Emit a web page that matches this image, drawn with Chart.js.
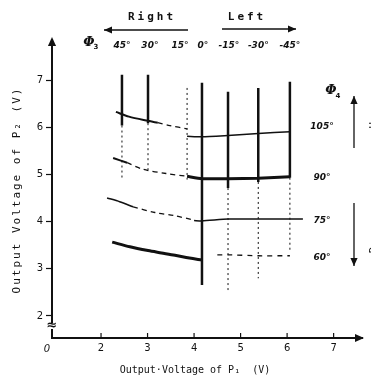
<!DOCTYPE html>
<html>
<head>
<meta charset="utf-8">
<script src="https://cdn.jsdelivr.net/npm/chart.js@4.4.0/dist/chart.umd.min.js"></script>
<style>
    html, body { margin: 0; padding: 0; background: #fff; }
    #wrap { width: 371px; height: 383px; }
</style>
</head>
<body>
<div id="wrap"><canvas id="phaseChart" width="371" height="383"></canvas></div>
<script>
// constant phi3 lines (vertical): x position, top, end of solid part, end of dashed part
var phi3Labels = ['45°', '30°', '15°', '0°', '-15°', '-30°', '-45°'];
var phi3LabelX = [2.45, 3.05, 3.70, 4.19, 4.75, 5.38, 6.06];
var phi3X = [2.45, 3.01, 3.85, 4.17, 4.73, 5.38, 6.06];
var phi3Top = [7.13, 7.13, 6.85, 6.96, 6.77, 6.85, 6.98];
var phi3SolidEnd = [6.05, 6.10, 6.85, 2.66, 4.72, 4.85, 4.94];
var phi3Bottom = [4.90, 5.05, 4.90, 2.66, 2.55, 2.80, 3.40];

// constant phi4 curves, each in left / middle (dashed) / right pieces
var phi4Labels = ['105°', '90°', '75°', '60°'];
var phi4LabelY = [6.02, 4.95, 4.02, 3.24];

var c105Left = [[2.32, 6.34], [2.6, 6.24], [3.01, 6.15], [3.22, 6.11]];
var c105Mid = [[3.22, 6.11], [3.48, 6.05], [3.85, 5.98]];
var c105Right = [[3.85, 5.82], [4.17, 5.81], [4.73, 5.84], [5.38, 5.88], [6.06, 5.92]];

var c90Left = [[2.26, 5.36], [2.56, 5.26]];
var c90Mid = [[2.56, 5.26], [2.9, 5.12], [3.4, 5.03], [3.85, 4.97]];
var c90Right = [[3.85, 4.97], [4.17, 4.92], [4.73, 4.92], [5.38, 4.93], [6.06, 4.96]];

var c75Left = [[2.13, 4.51], [2.4, 4.43], [2.69, 4.32]];
var c75Mid = [[2.69, 4.32], [3.16, 4.2], [3.59, 4.13], [3.95, 4.05]];
var c75Right = [[4.0, 4.03], [4.17, 4.02], [4.73, 4.06], [5.38, 4.06], [6.34, 4.06]];

var c60Left = [[2.24, 3.57], [2.62, 3.47], [3.01, 3.39], [3.3, 3.34], [3.59, 3.29], [3.9, 3.23], [4.17, 3.19]];
var c60Right = [[4.5, 3.3], [4.73, 3.3], [5.38, 3.28], [6.06, 3.28]];

var xMin = 0.946, xMax = 7.61;
var yMin = 1.53, yMax = 7.87;

function toPts(arr) {
    return arr.map(function(p) { return { x: p[0], y: p[1] }; });
}

function lineSet(points, width, dash, tension) {
    return {
        data: points,
        showLine: true,
        borderColor: '#111',
        borderWidth: width,
        borderDash: dash || [],
        pointRadius: 0,
        tension: tension || 0,
        fill: false
    };
}

var datasets = [];

// vertical phi3 lines
for (var i = 0; i < phi3X.length; i++) {
    if (phi3SolidEnd[i] < phi3Top[i]) {
        datasets.push(lineSet([{ x: phi3X[i], y: phi3Top[i] }, { x: phi3X[i], y: phi3SolidEnd[i] }], 2.5));
    }
    if (phi3Bottom[i] < phi3SolidEnd[i]) {
        datasets.push(lineSet([{ x: phi3X[i], y: phi3SolidEnd[i] }, { x: phi3X[i], y: phi3Bottom[i] }], 1, [2, 3]));
    }
}

// phi4 curves
datasets.push(lineSet(toPts(c105Left), 2, null, 0.3));
datasets.push(lineSet(toPts(c105Mid), 1.3, [5, 4], 0.3));
datasets.push(lineSet(toPts(c105Right), 1.5, null, 0.2));

datasets.push(lineSet(toPts(c90Left), 2, null, 0.3));
datasets.push(lineSet(toPts(c90Mid), 1.3, [5, 4], 0.3));
datasets.push(lineSet(toPts(c90Right), 3, null, 0.2));

datasets.push(lineSet(toPts(c75Left), 1.6, null, 0.3));
datasets.push(lineSet(toPts(c75Mid), 1.3, [5, 4], 0.3));
datasets.push(lineSet(toPts(c75Right), 1.5, null, 0.2));

datasets.push(lineSet(toPts(c60Left), 3, null, 0.3));
datasets.push(lineSet(toPts(c60Right), 1.3, [5, 5], 0.2));

function arrowHead(ctx, x, y, ang, size) {
    ctx.save();
    ctx.translate(x, y);
    ctx.rotate(ang);
    ctx.beginPath();
    ctx.moveTo(0, 0);
    ctx.lineTo(-size, -size * 0.45);
    ctx.lineTo(-size, size * 0.45);
    ctx.closePath();
    ctx.fill();
    ctx.restore();
}

function arrow(ctx, x1, y1, x2, y2, w) {
    ctx.lineWidth = w || 1.5;
    ctx.beginPath();
    ctx.moveTo(x1, y1);
    ctx.lineTo(x2, y2);
    ctx.stroke();
    arrowHead(ctx, x2, y2, Math.atan2(y2 - y1, x2 - x1), 8);
}

var decorPlugin = {
    id: 'decor',
    afterDraw: function(chart) {
        var ctx = chart.ctx;
        var xs = chart.scales.x, ys = chart.scales.y;
        var area = chart.chartArea;
        ctx.save();
        ctx.fillStyle = '#111';
        ctx.strokeStyle = '#111';

        // axis arrows
        arrowHead(ctx, area.left, area.top - 3, -Math.PI / 2, 9);
        arrowHead(ctx, area.right + 2, area.bottom, 0, 9);

        // x tick marks pointing up
        ctx.lineWidth = 1.2;
        xs.ticks.forEach(function(t) {
            var px = xs.getPixelForValue(t.value);
            ctx.beginPath();
            ctx.moveTo(px, area.bottom);
            ctx.lineTo(px, area.bottom - 5);
            ctx.stroke();
        });

        // origin label and y-axis break
        ctx.font = 'italic 10px "DejaVu Sans"';
        ctx.textAlign = 'center';
        ctx.textBaseline = 'middle';
        ctx.fillText('0', area.left - 5, area.bottom + 11);
        ctx.fillStyle = '#fff';
        ctx.fillRect(area.left - 3, area.bottom - 15, 6, 6);
        ctx.fillStyle = '#111';
        ctx.font = 'bold 13px "DejaVu Sans"';
        ctx.fillText('≈', area.left, area.bottom - 12);

        // phi3 labels along the top
        ctx.font = 'bold italic 9px "DejaVu Sans"';
        var labY = ys.getPixelForValue(7.74);
        phi3Labels.forEach(function(lab, i) {
            ctx.fillText(lab, xs.getPixelForValue(phi3LabelX[i]), labY);
        });
        ctx.font = 'bold italic 13px "DejaVu Serif"';
        ctx.fillText('Φ', 89, labY - 3);
        ctx.font = 'bold 7px "DejaVu Sans"';
        ctx.fillText('3', 96, labY + 1);

        // Right / Left direction
        ctx.font = 'bold 11px "DejaVu Sans Mono"';
        ctx.letterSpacing = '3px';
        ctx.fillText('Right', 152, 17);
        ctx.fillText('Left', 247, 17);
        ctx.letterSpacing = '0px';
        arrow(ctx, 188, 30, 104, 30, 1.3);
        arrow(ctx, 222, 29, 296, 29, 1.3);

        // phi4 labels on the right
        ctx.font = 'bold italic 9px "DejaVu Sans"';
        phi4Labels.forEach(function(lab, i) {
            ctx.fillText(lab, 322, ys.getPixelForValue(phi4LabelY[i]));
        });
        ctx.font = 'bold italic 13px "DejaVu Serif"';
        ctx.fillText('Φ', 331, 91);
        ctx.font = 'bold 7px "DejaVu Sans"';
        ctx.fillText('4', 338, 96);
        arrow(ctx, 354, 148, 354, 96, 1.3);
        arrow(ctx, 354, 203, 354, 266, 1.3);

        // side notes, cut off by the page edge
        ctx.font = '11px "DejaVu Sans Mono"';
        ctx.save();
        ctx.translate(374, 122);
        ctx.rotate(-Math.PI / 2);
        ctx.fillText('Up', 0, 0);
        ctx.restore();
        ctx.save();
        ctx.translate(374, 240);
        ctx.rotate(-Math.PI / 2);
        ctx.fillText('Down', 0, 0);
        ctx.restore();

        // axis titles
        ctx.font = '11px "DejaVu Sans Mono"';
        ctx.letterSpacing = '2px';
        ctx.save();
        ctx.translate(17, 190);
        ctx.rotate(-Math.PI / 2);
        ctx.fillText('Output Voltage of P₂ (V)', 0, 0);
        ctx.restore();
        ctx.letterSpacing = '0px';
        ctx.font = '10px "DejaVu Sans Mono"';
        ctx.fillText('Output·Voltage of P₁  (V)', 195, 370);

        ctx.restore();
    }
};

var chart = new Chart(document.getElementById('phaseChart').getContext('2d'), {
    type: 'scatter',
    data: { datasets: datasets },
    options: {
        responsive: false,
        animation: false,
        layout: { padding: { top: 40, right: 9, left: 0, bottom: 0 } },
        plugins: {
            legend: { display: false },
            tooltip: { enabled: false }
        },
        scales: {
            x: {
                type: 'linear',
                min: xMin,
                max: xMax,
                afterFit: function(scale) { scale.height = 45; },
                afterBuildTicks: function(scale) {
                    scale.ticks = scale.ticks.filter(function(t) { return t.value >= 2; });
                },
                ticks: {
                    stepSize: 1,
                    includeBounds: false,
                    padding: 4,
                    color: '#111',
                    font: { family: 'DejaVu Sans', size: 10 }
                },
                grid: { drawOnChartArea: false, drawTicks: false },
                border: { color: '#111', width: 2 }
            },
            y: {
                type: 'linear',
                min: yMin,
                max: yMax,
                afterFit: function(scale) { scale.width = 52; },
                ticks: {
                    stepSize: 1,
                    includeBounds: false,
                    padding: 3,
                    color: '#111',
                    font: { family: 'DejaVu Sans', size: 10 }
                },
                grid: { drawOnChartArea: false, drawTicks: true, tickLength: 6, color: '#111', tickWidth: 1.2 },
                border: { color: '#111', width: 2 }
            }
        }
    },
    plugins: [decorPlugin]
});
</script>
</body>
</html>
